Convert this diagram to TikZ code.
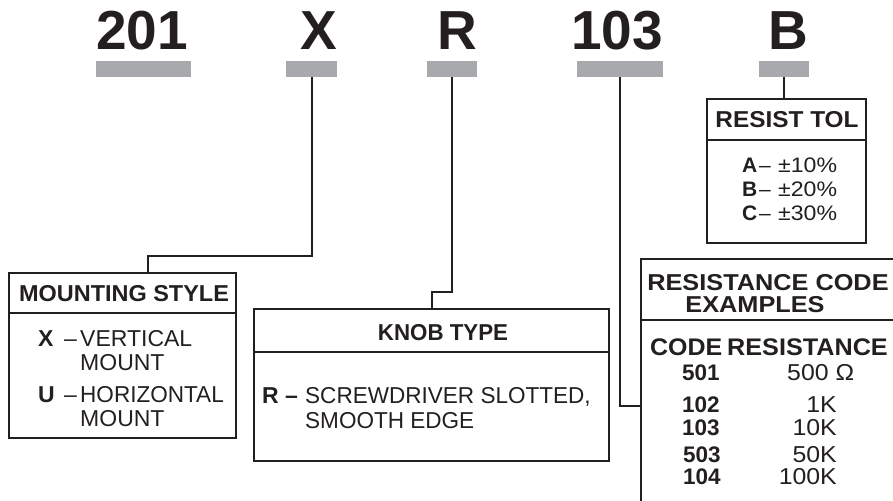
\documentclass[tikz,border=0pt]{standalone}
\usepackage{fontspec}
\setmainfont{Liberation Sans}
\usetikzlibrary{calc}
\definecolor{ink}{HTML}{231F20}
\definecolor{barg}{HTML}{A7A9AC}
\newcommand\fsz[1]{\fontsize{#1}{#1}\selectfont}
\newcommand\sxb[2]{\scalebox{#1}[1]{#2}}
\begin{document}
\begin{tikzpicture}[x=1pt,y=-1pt,
  bar/.style={fill=barg, draw=none, minimum height=16pt, inner sep=0pt, anchor=north west},
  box/.style={draw=ink, line width=2.3pt, inner sep=0pt, anchor=north west},
  rule/.style={draw=ink, line width=2.3pt},
  conn/.style={draw=ink, line width=1.8pt},
  txt/.style={inner sep=0pt, text=ink},
  big/.style={txt, anchor=base east, font=\fsz{55}\bfseries},
  head/.style={txt, anchor=base, font=\fsz{23}\bfseries},
  body/.style={txt, anchor=base west, font=\fsz{23}},
  bodyb/.style={txt, anchor=base west, font=\fsz{23}\bfseries},
  small/.style={txt, anchor=base west, font=\fsz{21}},
  smallb/.style={txt, anchor=base west, font=\fsz{21}\bfseries},
  code/.style={txt, anchor=base west, font=\fsz{22.5}\bfseries},
  val/.style={txt, anchor=base east, font=\fsz{23}},
]
\useasboundingbox (0,0) rectangle (893,500);
\clip (0,0) rectangle (893,500);

% gray bars
\node[bar, minimum width=95pt] (b201) at (96,61) {};
\node[bar, minimum width=51pt] (bX) at (286,61) {};
\node[bar, minimum width=50pt] (bR) at (427,61) {};
\node[bar, minimum width=86pt] (b103) at (577,61) {};
\node[bar, minimum width=50pt] (bB) at (759,61) {};

% big code characters
\node[big] (t201) at (188,50) {201};
\node[big] (tX) at (337,50) {X};
\node[big] (tR) at (477,50) {R};
\node[big] (t103) at (663,50) {103};
\node[big] (tB) at (808,50) {B};

% boxes
\node[box, minimum width=227pt, minimum height=165pt] (mount) at (8,272) {};
\node[box, minimum width=355pt, minimum height=152pt] (knob) at (253,308) {};
\node[box, minimum width=159pt, minimum height=144pt] (tol) at (706,98) {};
\node[box, minimum width=280pt, minimum height=270pt] (res) at (640,258) {};

% dividers
\draw[rule] (mount.west |- 0,313) -- (mount.east |- 0,313);
\draw[rule] (knob.west |- 0,352) -- (knob.east |- 0,352);
\draw[rule] (tol.west |- 0,140) -- (tol.east |- 0,140);
\draw[rule] (res.west |- 0,320) -- (res.east |- 0,320);

% connectors
\coordinate (mx) at (148,272);
\draw[conn] (bX.south) -- (bX.south |- 0,256) -| (mx);
\draw[conn] (bR.south) -- (bR.south |- 0,292) -| (knob.north);
\draw[conn] (b103.south) |- (res.west |- 0,406);
\draw[conn] (bB.south) -- (bB.south |- tol.north);

% mounting style
\node[head] (hm) at (124,301) {\sxb{1.02}{MOUNTING STYLE}};
\node[bodyb] (mX) at (38,346) {X};
\node[body] (mXd) at (64,346) {–};
\node[body] (mX1) at (80,346) {VERTICAL};
\node[body] (mX2) at (80,370) {MOUNT};
\node[bodyb] (mU) at (38,402) {U};
\node[body] (mUd) at (64,402) {–};
\node[body] (mU1) at (80,402) {\sxb{0.98}{HORIZONTAL}};
\node[body] (mU2) at (80,426) {MOUNT};

% knob type
\node[head] (hk) at (443,340) {\sxb{0.97}{KNOB TYPE}};
\node[bodyb] (kR) at (262,403) {R –};
\node[body] (kR1) at (305,403) {\sxb{0.98}{SCREWDRIVER SLOTTED,}};
\node[body] (kR2) at (305,428) {\sxb{0.98}{SMOOTH EDGE}};

% resist tol
\node[head] (ht) at (787,128) {\sxb{1.06}{RESIST TOL}};
\node[smallb] (tA) at (742,172) {A};
\node[small] (tAd) at (759,172) {–};
\node[small] (tA1) at (778,172) {\sxb{1.1}{±10\%}};
\node[smallb] (tBB) at (742,196) {B};
\node[small] (tBd) at (759,196) {–};
\node[small] (tB1) at (778,196) {\sxb{1.1}{±20\%}};
\node[smallb] (tC) at (742,220) {C};
\node[small] (tCd) at (759,220) {–};
\node[small] (tC1) at (778,220) {\sxb{1.1}{±30\%}};

% resistance code examples
\node[head] (hr1) at (768,290) {\sxb{1.1}{RESISTANCE CODE}};
\node[head] (hr2) at (755,312) {\sxb{1.1}{EXAMPLES}};
\node[txt, anchor=base west, font=\fsz{24}\bfseries] (hc) at (650,355) {\sxb{1.04}{CODE}};
\node[txt, anchor=base west, font=\fsz{24}\bfseries] (hv) at (727,355) {\sxb{1.05}{RESISTANCE}};
\node[code] (c1) at (682,380) {501};
\node[txt, anchor=base west, font=\fsz{23}] (v1) at (787,380) {\sxb{1.08}{500 Ω}};
\node[code] (c2) at (682,412) {102};
\node[val] (v2) at (837,412) {\sxb{1.08}{1K}};
\node[code] (c3) at (682,435) {103};
\node[val] (v3) at (837,435) {\sxb{1.08}{10K}};
\node[code] (c4) at (683,462) {503};
\node[val] (v4) at (837,462) {\sxb{1.08}{50K}};
\node[code] (c5) at (683,484) {104};
\node[val] (v5) at (837,484) {\sxb{1.08}{100K}};
\end{tikzpicture}
\end{document}
